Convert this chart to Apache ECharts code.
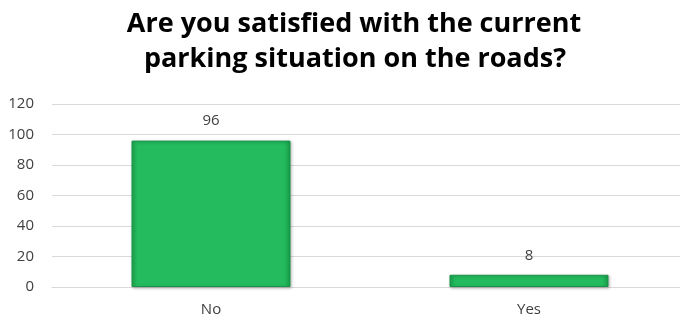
<!DOCTYPE html>
<html>
<head>
<meta charset="utf-8">
<script src="https://cdn.jsdelivr.net/npm/echarts@6/dist/echarts.min.js"></script>
<style>
  html, body { margin: 0; padding: 0; background: #fff; overflow: hidden; }
  #chart { width: 688px; height: 324px; }
</style>
</head>
<body>
<div id="chart"></div>
<script>
// Survey answers and counts
const categories = ['No', 'Yes'];
const counts = [96, 8];
const yTicks = [0, 20, 40, 60, 80, 100, 120];
const titleLines = ['Are you satisfied with the current', 'parking situation on the roads?'];

const chart = echarts.init(document.getElementById('chart'));

const barFill = new echarts.graphic.LinearGradient(0, 0, 1, 0, [
  { offset: 0, color: '#1ea852' },
  { offset: 0.04, color: '#23bb5d' },
  { offset: 0.96, color: '#23bb5d' },
  { offset: 1, color: '#1a9c4b' }
]);

const titleStyle = {
  fontFamily: 'Open Sans',
  fontWeight: 'bold',
  fontSize: 27,
  fill: '#000000',
  textAlign: 'center',
  textVerticalAlign: 'middle'
};

chart.setOption({
  animation: false,
  backgroundColor: '#ffffff',
  graphic: [
    { type: 'text', x: 354, y: 24, style: Object.assign({ text: titleLines[0] }, titleStyle) },
    { type: 'text', x: 355, y: 59, style: Object.assign({ text: titleLines[1] }, titleStyle) }
  ],
  grid: { left: 52, top: 104, width: 636, height: 183, containLabel: false },
  xAxis: {
    type: 'category',
    data: categories,
    axisLine: { show: true, lineStyle: { color: '#d9d9d9' } },
    axisTick: { show: false },
    axisLabel: { color: '#404040', fontSize: 15, fontFamily: 'Open Sans', margin: 15 }
  },
  yAxis: {
    type: 'value',
    min: yTicks[0],
    max: yTicks[yTicks.length - 1],
    interval: yTicks[1] - yTicks[0],
    axisLine: { show: false },
    axisTick: { show: false },
    splitLine: { lineStyle: { color: '#d9d9d9', width: 1 } },
    axisLabel: { color: '#404040', fontSize: 15, fontFamily: 'Open Sans', margin: 18 }
  },
  series: [{
    type: 'bar',
    data: counts,
    barWidth: '50%',
    itemStyle: {
      color: barFill,
      borderColor: '#199448',
      borderWidth: 1,
      shadowColor: 'rgba(0,0,0,0.25)',
      shadowBlur: 3,
      shadowOffsetX: 1,
      shadowOffsetY: 1
    },
    label: {
      show: true,
      position: 'top',
      distance: 12,
      color: '#404040',
      fontSize: 15,
      fontFamily: 'Open Sans'
    }
  }]
});
</script>
</body>
</html>
